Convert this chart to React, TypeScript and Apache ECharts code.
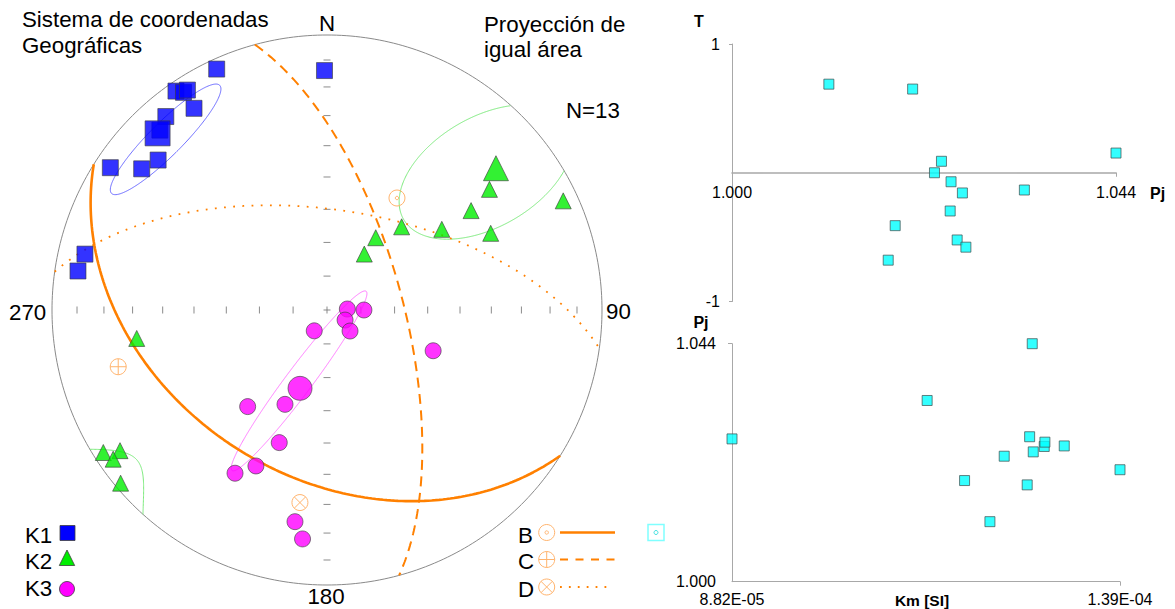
import React, { useEffect, useRef } from "react";
import * as echarts from "echarts";

// ---------------- Stereonet data (trend, plunge in degrees) ----------------
const K1_TREND = [335.4, 359.4, 325.4, 326.6, 327.6, 326.6, 320.2, 317.1, 311.6, 307.3, 303.3, 283.0, 278.9];
const K1_PLUNGE = [4.1, 14.0, 3.7, 5.8, 5.9, 13.2, 9.3, 11.7, 19.0, 16.4, 6.4, 10.6, 9.2];
const K2_TREND = [53.4, 55.4, 65.2, 54.9, 64.9, 41.9, 34.0, 33.7, 261.5, 237.5, 235.8, 235.1, 230.0];
const K2_PLUNGE = [27.3, 36.5, 6.0, 47.7, 34.6, 56.6, 64.1, 70.1, 30.7, 4.0, 9.9, 5.8, 2.3];
const K3_TREND = [87.2, 90.0, 119.1, 132.4, 211.5, 204.0, 219.4, 199.8, 204.5, 209.4, 188.6, 186.1, 111.0];
const K3_PLUNGE = [84.0, 79.1, 83.9, 80.8, 82.8, 59.2, 52.5, 47.5, 37.7, 32.4, 23.2, 17.4, 56.0];
// mean directions of K1, K2, K3
const MEAN_TREND = [316.2, 50.0, 199.0];
const MEAN_PLUNGE = [12.0, 20.9, 65.4];
// confidence ellipses (center direction, semi-axes in net radii, azimuth of major axis)
const ELL_TREND = [316.6, 49.0, 201.5];
const ELL_PLUNGE = [15.7, 24.5, 67.4];
const ELL_A = [0.278, 0.345, 0.407];
const ELL_B = [0.06, 0.2, 0.048];
const ELL_AZ = [45, 60, 36.8];
// B, C, D axes (poles of the drawn planes)
const AXIS_NAMES = ["B", "C", "D"];
const AXIS_TREND = [32.0, 254.8, 188.0];
const AXIS_PLUNGE = [50.3, 22.4, 30.0];
const NET_TICKS = [10, 20, 30, 40, 50, 60, 70, 80];

// ---------------- AMS parameters of the 13 specimens ----------------
const PJ = [1.0111, 1.0207, 1.044, 1.024, 1.0232, 1.0251, 1.0264, 1.0335, 1.025, 1.0187, 1.0258, 1.0268, 1.0179];
const T = [0.688, 0.65, 0.153, 0.089, 0.0, -0.07, -0.157, -0.134, -0.297, -0.411, -0.522, -0.578, -0.679];
const KM = [1.2197e-4, 1.39e-4, 1.2751e-4, 1.2764e-4, 1.2384e-4, 1.317e-4, 8.82e-5, 1.1375e-4, 1.2908e-4, 1.1865e-4, 1.2917e-4, 1.2717e-4, 1.2685e-4];
const PJ_RANGE = [1.0, 1.044];
const T_RANGE = [-1, 1];
const KM_RANGE = [8.82e-5, 1.39e-4];

const FONT = '"Liberation Sans", Arial, sans-serif';
const ORANGE = "#FF8000";
const POLE = "#FFB46E";
const RAD = Math.PI / 180;
const BIG = 22.3;

type V3 = [number, number, number];
function dirVec(trend: number, plunge: number): V3 {
  const t = trend * RAD, p = plunge * RAD;
  return [Math.cos(p) * Math.cos(t), Math.cos(p) * Math.sin(t), Math.sin(p)];
}
function projVec(v: V3): [number, number] {
  let [n, e, d] = v;
  const L = Math.hypot(n, e, d);
  n /= L; e /= L; d /= L;
  if (d < 0) { n = -n; e = -e; d = -d; }
  const h = Math.hypot(n, e);
  if (h < 1e-12) return [0, 0];
  const r = Math.sqrt(Math.max(0, 1 - d));
  return [(e / h) * r, (n / h) * r];
}
const proj = (tr: number, pl: number) => projVec(dirVec(tr, pl));

function greatCircle(trend: number, plunge: number) {
  const u = dirVec(trend + 90, 0);
  const w = dirVec(trend + 180, 90 - plunge);
  const pts: number[][] = [];
  for (let t = 0; t <= 180; t += 1) {
    const c = Math.cos(t * RAD), s = Math.sin(t * RAD);
    pts.push(projVec([c * u[0] + s * w[0], c * u[1] + s * w[1], Math.abs(c * u[2] + s * w[2])]));
  }
  return pts;
}

function ellipseSegments(i: number) {
  const [cx, cy] = proj(ELL_TREND[i], ELL_PLUNGE[i]);
  const a = ELL_A[i], b = ELL_B[i], az = ELL_AZ[i] * RAD;
  const ux = Math.sin(az), uy = Math.cos(az);
  const vx = Math.cos(az), vy = -Math.sin(az);
  const wrap = (x: number, y: number) => {
    const r = Math.hypot(x, y);
    const rr = Math.sqrt(Math.max(0, 2 - r * r));
    return [(-x / r) * rr, (-y / r) * rr];
  };
  const segs: { out: boolean; pts: number[][] }[] = [];
  let cur: { out: boolean; pts: number[][] } | null = null;
  let prev: number[] | null = null;
  for (let k = 0; k <= 720; k++) {
    const f = k * 0.5 * RAD;
    const x = cx + a * Math.cos(f) * ux + b * Math.sin(f) * vx;
    const y = cy + a * Math.cos(f) * uy + b * Math.sin(f) * vy;
    const out = Math.hypot(x, y) > 1;
    if (!cur) {
      cur = { out, pts: [] };
      segs.push(cur);
    } else if (out !== cur.out && prev) {
      const r0 = Math.hypot(prev[0], prev[1]), r1 = Math.hypot(x, y);
      const s = (1 - r0) / (r1 - r0);
      let px = prev[0] + s * (x - prev[0]), py = prev[1] + s * (y - prev[1]);
      const rn = Math.hypot(px, py);
      px /= rn; py /= rn;
      cur.pts.push(cur.out ? [-px, -py] : [px, py]);
      cur = { out, pts: [out ? [-px, -py] : [px, py]] };
      segs.push(cur);
    }
    cur.pts.push(out ? wrap(x, y) : [x, y]);
    prev = [x, y];
  }
  if (segs.length > 1 && segs[0].out === segs[segs.length - 1].out) {
    const first = segs.shift()!;
    segs[segs.length - 1].pts = segs[segs.length - 1].pts.concat(first.pts.slice(1));
  }
  return segs.map((s) => s.pts);
}

function lineSeries(data: number[][], color: string, width: number, type: any, z = 2) {
  return {
    type: "line",
    xAxisIndex: 0,
    yAxisIndex: 0,
    data,
    symbol: "none",
    showSymbol: false,
    silent: true,
    clip: false,
    z,
    lineStyle: { color, width, type, cap: "butt" },
  };
}

function poleGlyph(kind: string, cx: number, cy: number, r: number) {
  const st = { fill: "none", stroke: POLE, lineWidth: 1 };
  const els: any[] = [{ type: "circle", shape: { cx, cy, r }, style: st }];
  if (kind === "B") {
    els.push({ type: "circle", shape: { cx, cy, r: 1.7 }, style: st });
  } else if (kind === "C") {
    els.push({ type: "line", shape: { x1: cx - r, y1: cy, x2: cx + r, y2: cy }, style: st });
    els.push({ type: "line", shape: { x1: cx, y1: cy - r, x2: cx, y2: cy + r }, style: st });
  } else {
    const q = r * 0.7071;
    els.push({ type: "line", shape: { x1: cx - q, y1: cy - q, x2: cx + q, y2: cy + q }, style: st });
    els.push({ type: "line", shape: { x1: cx - q, y1: cy + q, x2: cx + q, y2: cy - q }, style: st });
  }
  return els;
}

function txt(text: string, x: number, y: number, size: number, align = "left", bold = false) {
  return {
    type: "text",
    x,
    y,
    silent: true,
    style: {
      text,
      font: `${bold ? "bold " : ""}${size}px ${FONT}`,
      fill: "#000",
      textAlign: align,
      align,
      textVerticalAlign: "middle",
      verticalAlign: "middle",
    },
  };
}

function expLabel(v: number) {
  const [m, e] = v.toExponential(2).split("e");
  const ei = parseInt(e, 10);
  return `${m}E${ei < 0 ? "-" : "+"}${String(Math.abs(ei)).padStart(2, "0")}`;
}

function buildOption() {
  const series: any[] = [];

  // primitive circle
  const prim: number[][] = [];
  for (let a = 0; a <= 360; a += 1) prim.push([Math.sin(a * RAD), Math.cos(a * RAD)]);
  series.push(lineSeries(prim, "#8a8a8a", 1, "solid", 1));

  // net ticks
  const ewTicks: number[][] = [];
  const nsTicks: number[][] = [[0, 0]];
  NET_TICKS.forEach((p) => {
    const r = Math.sqrt(1 - Math.sin(p * RAD));
    ewTicks.push([r, 0], [-r, 0]);
    nsTicks.push([0, r], [0, -r]);
  });
  ewTicks.push([0, 0]);
  series.push({
    type: "scatter", xAxisIndex: 0, yAxisIndex: 0, data: ewTicks, symbol: "rect",
    symbolSize: [1.1, 7], itemStyle: { color: "#7a7a7a" }, silent: true, z: 1,
  });
  series.push({
    type: "scatter", xAxisIndex: 0, yAxisIndex: 0, data: nsTicks, symbol: "rect",
    symbolSize: [7, 1.1], itemStyle: { color: "#7a7a7a" }, silent: true, z: 1,
  });

  // confidence ellipses
  const ellColors = ["#6A6AFF", "#7DEB7D", "#FF7AFF"];
  [0, 1, 2].forEach((i) => {
    ellipseSegments(i).forEach((seg) => series.push(lineSeries(seg, ellColors[i], 1, "solid", 2)));
  });

  // great circles of B, C, D
  const gcStyles: any[] = [
    { w: 2.6, t: "solid" },
    { w: 2, t: [10, 6.5] },
    { w: 1.8, t: [1.8, 7.4] },
  ];
  AXIS_NAMES.forEach((n, i) => {
    series.push(lineSeries(greatCircle(AXIS_TREND[i], AXIS_PLUNGE[i]), ORANGE, gcStyles[i].w, gcStyles[i].t, 3));
  });

  const border = { borderColor: "#3d3d3d", borderWidth: 0.8 };
  const kSets = [
    { tr: K1_TREND, pl: K1_PLUNGE, sym: "rect", size: 16, mean: 25, color: "#0000FF" },
    { tr: K2_TREND, pl: K2_PLUNGE, sym: "triangle", size: 16, mean: 25, color: "#00EE00" },
    { tr: K3_TREND, pl: K3_PLUNGE, sym: "circle", size: 16, mean: 24, color: "#FF00FF" },
  ];
  kSets.forEach((k, i) => {
    series.push({
      type: "scatter", xAxisIndex: 0, yAxisIndex: 0, symbol: k.sym, symbolSize: k.size,
      data: k.tr.map((t, j) => proj(t, k.pl[j])),
      itemStyle: { color: k.color, ...border }, silent: true, z: 4,
    });
    series.push({
      type: "scatter", xAxisIndex: 0, yAxisIndex: 0, symbol: k.sym, symbolSize: k.mean,
      data: [proj(MEAN_TREND[i], MEAN_PLUNGE[i])],
      itemStyle: { color: k.color, ...border }, silent: true, z: 4,
    });
  });

  // B, C, D axis symbols
  series.push({
    type: "custom",
    coordinateSystem: "cartesian2d",
    xAxisIndex: 0,
    yAxisIndex: 0,
    silent: true,
    z: 5,
    data: AXIS_NAMES.map((n, i) => proj(AXIS_TREND[i], AXIS_PLUNGE[i])),
    renderItem: (params: any, api: any) => {
      const p = api.coord([api.value(0), api.value(1)]);
      return { type: "group", children: poleGlyph(AXIS_NAMES[params.dataIndex], p[0], p[1], 8) };
    },
  });

  // right panels
  const sq = { color: "#00FFFF", borderColor: "#3f4f4f", borderWidth: 0.9 };
  series.push({
    type: "scatter", xAxisIndex: 1, yAxisIndex: 1, symbol: "rect", symbolSize: 10,
    data: PJ.map((p, i) => [p, T[i]]), itemStyle: sq, silent: true, z: 4,
  });
  series.push({
    type: "scatter", xAxisIndex: 2, yAxisIndex: 2, symbol: "rect", symbolSize: 10,
    data: KM.map((k, i) => [k, PJ[i]]), itemStyle: sq, silent: true, z: 4,
  });

  const lbl = { fontSize: 16, color: "#000", fontFamily: "Liberation Sans" };
  const axisLine = (width = 1) => ({
    show: true, onZero: false, lineStyle: { color: "#a8a8a8", width },
  });

  const graphic: any[] = [
    txt("Sistema de coordenadas", 22, 19.5, BIG),
    txt("Geográficas", 22, 45.3, BIG),
    txt("N", 327, 23, BIG, "center"),
    txt("Proyección de", 484, 24.5, BIG),
    txt("igual área", 484, 49, BIG),
    txt("N=13", 566, 110, BIG),
    txt("270", 9, 312.5, BIG),
    txt("90", 606, 311.7, BIG),
    txt("180", 326, 596.5, BIG, "center"),
    txt("K1", 25, 535, BIG),
    txt("K2", 25, 561, BIG),
    txt("K3", 25, 588, BIG),
    { type: "rect", silent: true, shape: { x: 60, y: 525.5, width: 15, height: 15 }, style: { fill: "#0000FF", stroke: "#3d3d3d", lineWidth: 0.8 } },
    { type: "polygon", silent: true, shape: { points: [[67, 550], [59.3, 565.5], [74.7, 565.5]] }, style: { fill: "#00EE00", stroke: "#3d3d3d", lineWidth: 0.8 } },
    { type: "circle", silent: true, shape: { cx: 67, cy: 589, r: 7.5 }, style: { fill: "#FF00FF", stroke: "#3d3d3d", lineWidth: 0.8 } },
    txt("B", 518, 535.5, BIG),
    txt("C", 518, 561.5, BIG),
    txt("D", 518, 589.5, BIG),
    ...poleGlyph("B", 546.7, 532.5, 8),
    ...poleGlyph("C", 546.7, 559.5, 8),
    ...poleGlyph("D", 546.7, 587, 8),
    { type: "line", silent: true, shape: { x1: 560, y1: 532.5, x2: 615, y2: 532.5 }, style: { stroke: ORANGE, lineWidth: 2.4 } },
    { type: "line", silent: true, shape: { x1: 560, y1: 559.5, x2: 615, y2: 559.5 }, style: { stroke: ORANGE, lineWidth: 2, lineDash: [8, 7.5] } },
    { type: "line", silent: true, shape: { x1: 560, y1: 587, x2: 612, y2: 587 }, style: { stroke: ORANGE, lineWidth: 1.8, lineDash: [1.8, 7.1] } },
    { type: "rect", silent: true, shape: { x: 648, y: 524.5, width: 16, height: 16 }, style: { fill: "none", stroke: "#80FFFF", lineWidth: 1.5 } },
    { type: "circle", silent: true, shape: { cx: 656, cy: 532.5, r: 2 }, style: { fill: "none", stroke: "#40E0E0", lineWidth: 1 } },
    txt("T", 699, 21, 16, "center", true),
    txt("Pj", 1150, 193, 16, "left", true),
    txt("Pj", 701, 322, 16, "center", true),
    txt("Km [SI]", 922, 600, 15.5, "center", true),
  ];

  const topHeight = 257.5;

  return {
    animation: false,
    backgroundColor: "#ffffff",
    grid: [
      { left: 52, top: 35, width: 550, height: 550 },
      { left: 732, top: 44, width: 384, height: topHeight },
      { left: 732, top: 343.7, width: 388, height: 238 },
    ],
    xAxis: [
      { gridIndex: 0, type: "value", min: -1, max: 1, show: false },
      {
        gridIndex: 1, type: "value", min: PJ_RANGE[0], max: PJ_RANGE[1],
        position: "bottom",
        offset: -topHeight / 2,
        axisLine: axisLine(1.6),
        axisTick: { show: true, customValues: [PJ_RANGE[1]], length: 4, lineStyle: { color: "#a8a8a8" } },
        axisLabel: { ...lbl, customValues: [PJ_RANGE[0], PJ_RANGE[1]], margin: 12, formatter: (v: number) => v.toFixed(3) },
        splitLine: { show: false },
      },
      {
        gridIndex: 2, type: "value", min: KM_RANGE[0], max: KM_RANGE[1],
        axisLine: axisLine(),
        axisTick: { show: true, customValues: [KM_RANGE[1]], length: 4, lineStyle: { color: "#a8a8a8" } },
        axisLabel: { ...lbl, customValues: [KM_RANGE[0], KM_RANGE[1]], margin: 10, formatter: (v: number) => expLabel(v) },
        splitLine: { show: false },
      },
    ],
    yAxis: [
      { gridIndex: 0, type: "value", min: -1, max: 1, show: false },
      {
        gridIndex: 1, type: "value", min: T_RANGE[0], max: T_RANGE[1],
        axisLine: axisLine(),
        axisTick: { show: true, customValues: [T_RANGE[0], T_RANGE[1]], length: 3, lineStyle: { color: "#a8a8a8" } },
        axisLabel: { ...lbl, customValues: [T_RANGE[0], T_RANGE[1]], margin: 12, formatter: (v: number) => String(Math.round(v)) },
        splitLine: { show: false },
      },
      {
        gridIndex: 2, type: "value", min: PJ_RANGE[0], max: PJ_RANGE[1],
        axisLine: axisLine(),
        axisTick: { show: true, customValues: [PJ_RANGE[1]], length: 4, lineStyle: { color: "#a8a8a8" } },
        axisLabel: { ...lbl, customValues: [PJ_RANGE[0], PJ_RANGE[1]], margin: 16, formatter: (v: number) => v.toFixed(3) },
        splitLine: { show: false },
      },
    ],
    series,
    graphic,
  };
}

export default function App() {
  const ref = useRef<HTMLDivElement>(null);
  useEffect(() => {
    const chart = echarts.init(ref.current!, null, { renderer: "svg" });
    chart.setOption(buildOption() as any);
    return () => chart.dispose();
  }, []);
  return (
    <div
      ref={ref}
      style={{ position: "fixed", left: 0, top: 0, width: 1175, height: 609, background: "#fff" }}
    />
  );
}
